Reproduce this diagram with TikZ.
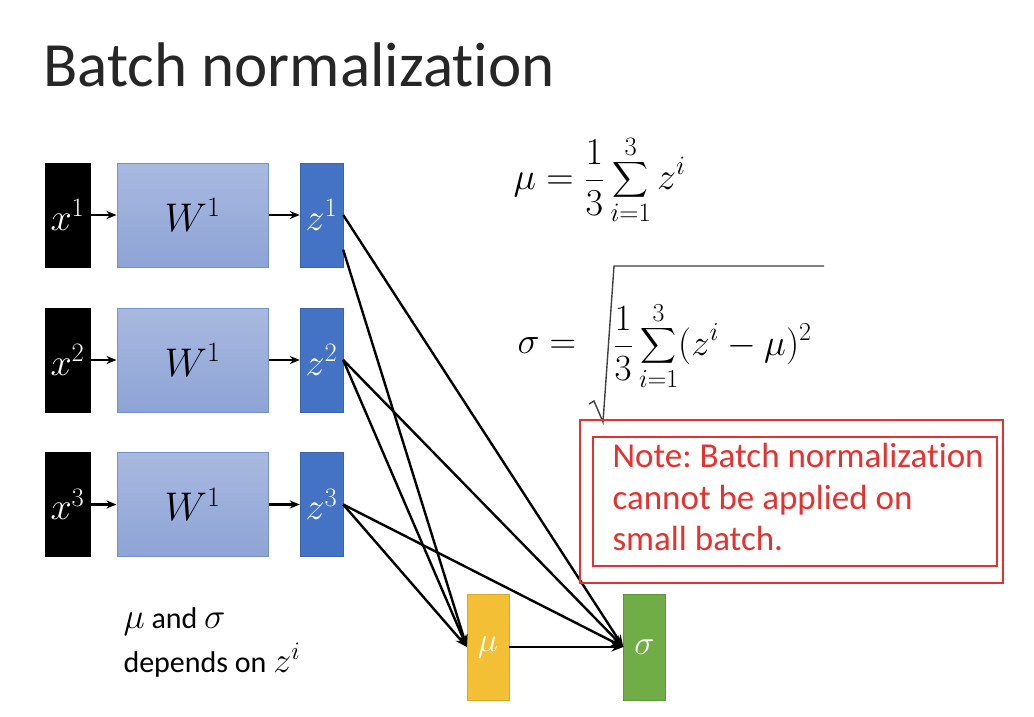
\documentclass[tikz,border=0pt]{standalone}
\usepackage{fix-cm}
\usepackage{amsmath}
\usepackage[no-math]{fontspec}
\setmainfont{Carlito}[Ligatures=NoCommon]
\frenchspacing
\usetikzlibrary{arrows.meta}
\definecolor{wtop}{HTML}{A9B9E0}
\definecolor{wbot}{HTML}{8EA4D6}
\definecolor{wline}{HTML}{7392D0}
\definecolor{zfill}{HTML}{4472C4}
\definecolor{zline}{HTML}{3A63AD}
\definecolor{mufill}{HTML}{F3BF35}
\definecolor{muline}{HTML}{DCA72C}
\definecolor{sgfill}{HTML}{70AD47}
\definecolor{sgline}{HTML}{5E9638}
\definecolor{notered}{HTML}{E5322F}
\definecolor{titlegray}{HTML}{262626}
\tikzset{
  xbox/.style={draw=black, fill=black, text=white, minimum width=45pt, minimum height=104pt, inner sep=0pt, font=\fontsize{38}{42}\selectfont},
  wbox/.style={draw=wline, line width=1pt, top color=wtop, bottom color=wbot, minimum width=151pt, minimum height=104pt, inner sep=0pt, font=\fontsize{40}{44}\selectfont},
  zbox/.style={draw=zline, fill=zfill, text=white, minimum width=43pt, minimum height=104pt, inner sep=0pt, font=\fontsize{38}{42}\selectfont},
  statbox/.style={text=white, minimum width=42pt, minimum height=106pt, inner sep=0pt, font=\fontsize{34}{38}\selectfont},
  link/.style={line width=2.4pt, -{Stealth[length=12pt,width=9pt]}},
  feed/.style={line width=2.4pt, -{Stealth[length=10pt,width=8pt]}}
}
\begin{document}
\begin{tikzpicture}[x=1pt, y=-1pt]
\useasboundingbox[fill=white] (0,0) rectangle (1034,716);
\node[anchor=base west, text=titlegray, font=\fontsize{63}{70}\selectfont] (title) at (40,86) {Batch normalization};
% inputs, weights and outputs
\node[xbox] (x1) at (67.5,215) {$x^1$};
\node[xbox] (x2) at (67.5,360) {$x^2$};
\node[xbox] (x3) at (67.5,504.5) {$x^3$};
\node[wbox] (w1) at (192.5,215) {$W^1$};
\node[wbox] (w2) at (192.5,360) {$W^1$};
\node[wbox] (w3) at (192.5,504.5) {$W^1$};
\node[zbox] (z1) at (321.5,215) {$z^1$};
\node[zbox] (z2) at (321.5,360) {$z^2$};
\node[zbox] (z3) at (321.5,504.5) {$z^3$};
\draw[feed] (x1) -- (w1);
\draw[feed] (x2) -- (w2);
\draw[feed] (x3) -- (w3);
\draw[feed] (w1) -- (z1);
\draw[feed] (w2) -- (z2);
\draw[feed] (w3) -- (z3);
% statistics
\node[statbox, draw=muline, fill=mufill] (mu) at (488,647) {$\mu$};
\node[statbox, draw=sgline, fill=sgfill] (sigma) at (644.5,647) {$\sigma$};
\draw[link] (z1.-58) -- (mu.west);
\draw[link] (z1.east) -- (sigma.west);
\draw[link] (z2.east) -- (mu.west);
\draw[link] (z2.east) -- (sigma.west);
\draw[link] (z3.east) -- (mu.west);
\draw[link] (z3.east) -- (sigma.west);
\draw[link] (mu) -- (sigma);
\node[anchor=north west, align=left, font=\fontsize{30}{44}\selectfont] (dep) at (120,604) {{\fontsize{36}{44}\selectfont$\mu$} and {\fontsize{36}{44}\selectfont$\sigma$}\\depends on {\fontsize{36}{44}\selectfont$z^i$}};
% formulas
\node[anchor=west, font=\fontsize{38}{44}\selectfont] (mueq) at (510,180) {$\mu=\dfrac{1}{3}\displaystyle\sum_{i=1}^{3} z^i$};
\node[anchor=west, font=\fontsize{37}{44}\selectfont] (sgeq) at (514,346) {$\sigma=$};
\node[anchor=west, font=\fontsize{37}{44}\selectfont] (sgsum) at (610,346) {$\dfrac{1}{3}\displaystyle\sum_{i=1}^{3}(z^i-\mu)^2$};
\draw[line width=1.4pt, draw=black!75] (589,404) -- (594,401) -- (603,422) -- (614,266) -- (824,266);
% note
\draw[notered, line width=2.5pt] (580,420) rectangle (1003,583);
\draw[notered, line width=2pt] (593,437) rectangle (997,566);
\node[anchor=north west, align=left, text=notered, font=\fontsize{35}{41.5}\selectfont] (note) at (609,440) {Note: Batch normalization\\cannot be applied on\\small batch.};
\end{tikzpicture}
\end{document}
